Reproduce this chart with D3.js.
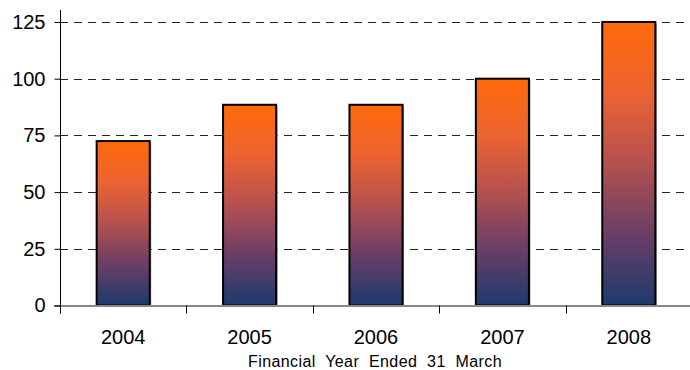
<!DOCTYPE html>
<html>
<head>
<meta charset="utf-8">
<script src="https://cdn.jsdelivr.net/npm/d3@7"></script>
<style>
  body { margin: 0; background: #fff; }
  svg text { font-family: 'Liberation Sans', Arial, sans-serif; fill: #000; }
</style>
</head>
<body>
<svg id="chart" width="690" height="370"></svg>
<script>
const years = ['2004', '2005', '2006', '2007', '2008'];
const values = [72.5, 88.5, 88.5, 100, 125];
const yTicks = [0, 25, 50, 75, 100, 125];
const axisTitle = 'Financial Year Ended 31 March';

const svg = d3.select('#chart');
const plot = { left: 60, right: 692, top: 22, bottom: 305.5 };

const x = d3.scaleBand()
  .domain(years)
  .range([plot.left, plot.right])
  .paddingInner(0.58)
  .paddingOuter(0.29);

const y = d3.scaleLinear()
  .domain([0, 125])
  .range([plot.bottom, plot.top]);

// bar gradient, per bar
const grad = svg.append('defs').append('linearGradient')
  .attr('id', 'barGrad')
  .attr('x1', 0).attr('y1', 0).attr('x2', 0).attr('y2', 1);
[
  [0, '#ff6a0a'],
  [0.25, '#ec6332'],
  [0.5, '#b4504f'],
  [0.75, '#6a3e66'],
  [1, '#1c3a6e']
].forEach(([o, c]) => grad.append('stop').attr('offset', o).attr('stop-color', c));

// dashed gridlines
svg.append('g')
  .selectAll('line')
  .data(yTicks.filter(d => d > 0))
  .join('line')
  .attr('x1', plot.left).attr('x2', 685)
  .attr('y1', d => Math.round(y(d)) + 0.5)
  .attr('y2', d => Math.round(y(d)) + 0.5)
  .attr('stroke', '#222')
  .attr('stroke-dasharray', '8,6');

// bar shadows
svg.append('g')
  .selectAll('rect')
  .data(values)
  .join('rect')
  .attr('x', (d, i) => x(years[i]) + 1.5)
  .attr('y', d => y(d) + 1.5)
  .attr('width', x.bandwidth())
  .attr('height', d => plot.bottom - y(d))
  .attr('fill', '#999');

// bars
svg.append('g')
  .selectAll('rect')
  .data(values)
  .join('rect')
  .attr('x', (d, i) => x(years[i]))
  .attr('y', d => y(d))
  .attr('width', x.bandwidth())
  .attr('height', d => plot.bottom - y(d))
  .attr('fill', 'url(#barGrad)')
  .attr('stroke', '#000')
  .attr('stroke-width', 2);

// x axis line (gray) and boundary ticks
svg.append('line')
  .attr('x1', plot.left - 6).attr('x2', 690)
  .attr('y1', plot.bottom + 0.5).attr('y2', plot.bottom + 0.5)
  .attr('stroke', '#888').attr('stroke-width', 2);

svg.append('g')
  .selectAll('line')
  .data(years)
  .join('line')
  .attr('x1', d => Math.round(x(d) - x.step() * x.paddingInner() / 2) + 0.5)
  .attr('x2', d => Math.round(x(d) - x.step() * x.paddingInner() / 2) + 0.5)
  .attr('y1', plot.bottom)
  .attr('y2', plot.bottom + 8)
  .attr('stroke', '#000');

// y axis
const yAxis = svg.append('g')
  .attr('transform', `translate(${plot.left + 0.5},0)`)
  .call(d3.axisLeft(y).tickValues(yTicks).tickSize(6).tickPadding(9));
yAxis.select('.domain').attr('d', `M0,10V${plot.bottom + 8}`).attr('stroke', '#000');
yAxis.selectAll('.tick line').attr('stroke', '#000');
yAxis.selectAll('.tick text').attr('font-size', 20).attr('font-family', "'Liberation Sans', Arial, sans-serif");

// x labels
svg.append('g')
  .selectAll('text')
  .data(years)
  .join('text')
  .attr('x', d => x(d) + x.bandwidth() / 2)
  .attr('y', 344)
  .attr('text-anchor', 'middle')
  .attr('font-size', 20)
  .text(d => d);

svg.append('text')
  .attr('x', 375)
  .attr('y', 367)
  .attr('text-anchor', 'middle')
  .attr('font-size', 16)
  .attr('letter-spacing', 0.4)
  .attr('word-spacing', 5)
  .text(axisTitle);
</script>
</body>
</html>
